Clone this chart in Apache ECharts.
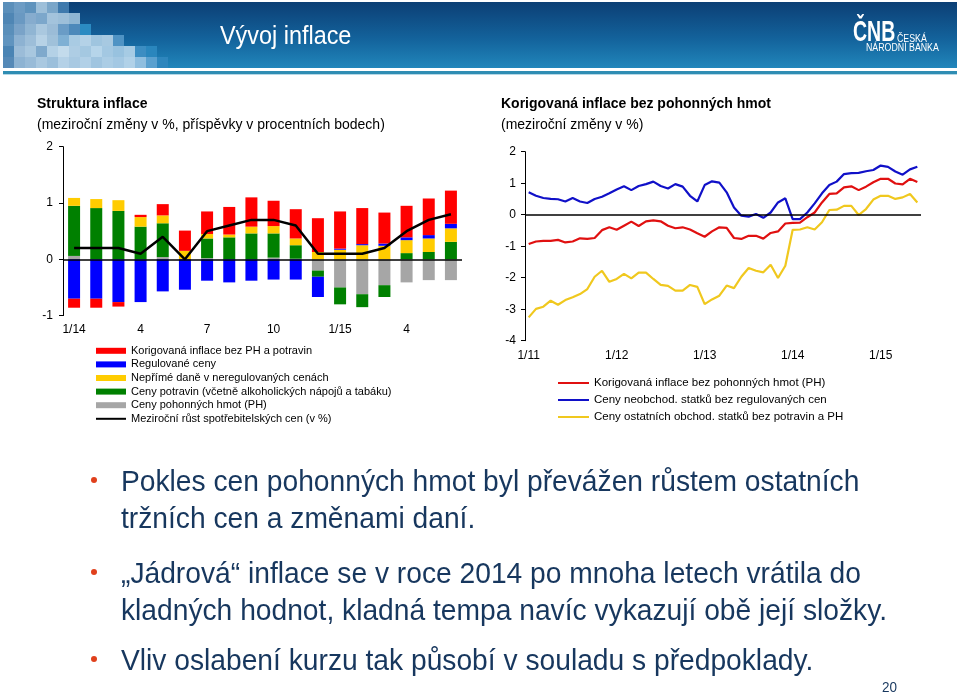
<!DOCTYPE html>
<html><head><meta charset="utf-8">
<script src="https://cdn.jsdelivr.net/npm/echarts@6/dist/echarts.min.js"></script>
<style>html,body{margin:0;padding:0;background:#fff}#c{width:960px;height:696px}</style>
</head><body><div id="c"></div>
<script>
// ---------- Left chart data (Struktura inflace) ----------
const leftCats = ["1/14","2","3","4","5","6","7","8","9","10","11","12","1/15","2","3","4","5","6"];
const korigovana = [-0.16,-0.16,-0.08,0.04,0.20,0.36,0.40,0.49,0.52,0.45,0.52,0.60,0.66,0.64,0.55,0.56,0.65,0.59];
const regulovane = [-0.70,-0.70,-0.76,-0.76,-0.57,-0.54,-0.38,-0.41,-0.38,-0.36,-0.36,-0.36,0.02,0.02,0.04,0.05,0.06,0.08];
const neprimeDane = [0.14,0.16,0.19,0.17,0.14,0.15,0.08,0.05,0.12,0.13,0.12,0.13,0.17,0.25,0.24,0.23,0.24,0.24];
const potraviny = [0.89,0.91,0.86,0.58,0.60,0.00,0.35,0.39,0.46,0.43,0.24,-0.11,-0.30,-0.23,-0.21,0.11,0.13,0.31];
const pohonne = [0.06,0.00,0.00,0.00,0.04,0.00,0.02,0.00,0.00,0.03,0.01,-0.20,-0.50,-0.62,-0.46,-0.41,-0.37,-0.37];
const cpi = [0.2,0.2,0.2,0.1,0.4,0.0,0.5,0.6,0.7,0.7,0.6,0.1,0.1,0.1,0.2,0.5,0.7,0.8];

// ---------- Right chart data (Korigovaná inflace bez PH) ----------
const rightCats = [
 "1/11","2/11","3/11","4/11","5/11","6/11","7/11","8/11","9/11","10/11","11/11","12/11",
 "1/12","2/12","3/12","4/12","5/12","6/12","7/12","8/12","9/12","10/12","11/12","12/12",
 "1/13","2/13","3/13","4/13","5/13","6/13","7/13","8/13","9/13","10/13","11/13","12/13",
 "1/14","2/14","3/14","4/14","5/14","6/14","7/14","8/14","9/14","10/14","11/14","12/14",
 "1/15","2/15","3/15","4/15","5/15","6/15"];
const korigBezPH = [-0.93,-0.85,-0.83,-0.83,-0.80,-0.88,-0.85,-0.75,-0.77,-0.74,-0.49,-0.40,
 -0.48,-0.35,-0.22,-0.36,-0.21,-0.18,-0.21,-0.35,-0.43,-0.40,-0.47,-0.59,
 -0.70,-0.53,-0.40,-0.42,-0.74,-0.77,-0.67,-0.67,-0.76,-0.58,-0.53,-0.28,
 -0.26,-0.25,-0.08,0.07,0.39,0.66,0.68,0.87,0.90,0.78,0.89,1.03,
 1.14,1.14,0.99,0.96,1.14,1.04];
const neobchod = [0.71,0.60,0.53,0.50,0.49,0.42,0.53,0.42,0.37,0.50,0.57,0.68,
 0.80,0.90,0.78,0.91,0.97,1.05,0.91,0.83,0.97,0.89,0.60,0.42,
 0.94,1.06,1.02,0.71,0.23,-0.03,-0.06,0.02,-0.10,0.07,0.39,0.52,
 -0.14,-0.14,0.07,0.36,0.68,0.94,1.05,1.29,1.32,1.33,1.38,1.42,
 1.56,1.52,1.37,1.27,1.44,1.52];
const ostatniObchod = [-3.26,-2.99,-2.92,-2.73,-2.86,-2.71,-2.62,-2.52,-2.36,-1.97,-1.78,-2.13,
 -2.04,-1.88,-2.02,-1.84,-1.84,-2.04,-2.23,-2.26,-2.41,-2.41,-2.23,-2.29,
 -2.84,-2.69,-2.57,-2.25,-2.33,-1.97,-1.69,-1.78,-1.83,-1.59,-2.01,-1.62,
 -0.48,-0.47,-0.40,-0.47,-0.24,0.15,0.16,0.28,0.28,-0.01,0.18,0.48,
 0.60,0.60,0.50,0.55,0.66,0.39];

const leftYTicks = [-1, 2, 1];    // min, max, interval
const rightYTicks = [-4, 2, 1];

const bullets = [
  ["Pokles cen pohonných hmot byl převážen růstem ostatních", "tržních cen a změnami daní."],
  ["„Jádrová“ inflace se v roce 2014 po mnoha letech vrátila do", "kladných hodnot, kladná tempa navíc vykazují obě její složky."],
  ["Vliv oslabení kurzu tak působí v souladu s předpoklady."]
];

const FONT = "'Liberation Sans', Arial, sans-serif";
const TXT = '#17375E';

// ---------- header decoration ----------
const sqRows = [
 ['#5b8fba','#6d9cc4','#5f93bd','#9dbfd9','#7aa6c9','#3f7aad'],
 ['#4f86b4','#6a99c2','#86acce','#7ca7cb','#a3c3dc','#9dbfd9','#8fb6d3'],
 ['#5a8fba','#7aa3c8','#90b5d3','#aac8df','#9bbcd7','#6a9cc6','#4d89ba','#2b8bc2'],
 ['#6094bf','#8db2d2','#9dbed9','#b7d2e6','#a0c1da','#7fb0d4','#a9cbe3','#b4d2e7','#9fc5df','#a7c9e1','#4f93c4'],
 ['#4a84b4','#9bbcd8','#a8c7df','#7fa9cc','#b4d1e6','#c3dbec','#aecde4','#a4c8e1','#b6d5ea','#a3c8e2','#98c2df','#a6cbe4','#3c8dc2','#2a86bd'],
 ['#5589b7','#8db3d3','#98bbd8','#a9c8e0','#9bbfdb','#b4d1e7','#a8c9e2','#b1d0e7','#a0c5e0','#abcde5','#a3c8e3','#b0d1e8','#8fbedf','#5aa0cf','#2e86bd']
];
const graphics = [];
graphics.push({type:'rect', shape:{x:3,y:2,width:954,height:66}, style:{fill:new echarts.graphic.LinearGradient(0,0,0,1,[{offset:0,color:'#0c3f75'},{offset:0.55,color:'#13629b'},{offset:1,color:'#2186bb'}])}, silent:true});
sqRows.forEach((row, r) => row.forEach((c, k) => {
  graphics.push({type:'rect', shape:{x:3+k*11, y:2+r*11, width:11, height:11}, style:{fill:c}, silent:true});
}));
graphics.push({type:'rect', shape:{x:3,y:71,width:954,height:3}, style:{fill:'#2f8db3'}, silent:true});
graphics.push({type:'rect', shape:{x:3,y:74,width:954,height:1}, style:{fill:'#b5d8e6'}, silent:true});
graphics.push({type:'text', x:220, y:37, scaleX:0.9, style:{text:'Vývoj inflace', fill:'#fff', font:"26px "+FONT, textVerticalAlign:'middle'}, silent:true});
graphics.push({type:'text', x:853, y:33, scaleX:0.65, style:{text:'ČNB', fill:'#fff', font:"bold 30px "+FONT, textVerticalAlign:'middle'}, silent:true});
graphics.push({type:'text', x:897, y:39, scaleX:0.88, style:{text:'ČESKÁ', fill:'#fff', font:"10px "+FONT, textVerticalAlign:'middle'}, silent:true});
graphics.push({type:'text', x:866, y:48, scaleX:0.88, style:{text:'NÁRODNÍ BANKA', fill:'#fff', font:"10px "+FONT, textVerticalAlign:'middle'}, silent:true});

// chart titles
graphics.push({type:'text', x:37, y:104, style:{text:'Struktura inflace', fill:'#000', font:"bold 14px "+FONT, textVerticalAlign:'middle'}, silent:true});
graphics.push({type:'text', x:37, y:125, style:{text:'(meziroční změny v %, příspěvky v procentních bodech)', fill:'#000', font:"14px "+FONT, textVerticalAlign:'middle'}, silent:true});
graphics.push({type:'text', x:501, y:104, style:{text:'Korigovaná inflace bez pohonných hmot', fill:'#000', font:"bold 14px "+FONT, textVerticalAlign:'middle'}, silent:true});
graphics.push({type:'text', x:501, y:125, style:{text:'(meziroční změny v %)', fill:'#000', font:"14px "+FONT, textVerticalAlign:'middle'}, silent:true});

// bullets
const lineYs = [[483,520],[575,612],[662]];
bullets.forEach((b, i) => {
  graphics.push({type:'circle', shape:{cx:94, cy:lineYs[i][0]-3, r:3}, style:{fill:'#e0401c'}, silent:true});
  b.forEach((t, j) => {
    graphics.push({type:'text', x:121, y:lineYs[i][j], scaleX:0.94, style:{text:t, fill:TXT, font:"30px "+FONT, textVerticalAlign:'middle'}, silent:true});
  });
});
graphics.push({type:'text', x:882, y:688, scaleX:0.9, style:{text:'20', fill:TXT, font:"15px "+FONT, textVerticalAlign:'middle'}, silent:true});

const zeroLine = {silent:true, symbol:['none','none'], label:{show:false}, lineStyle:{color:'#000', width:1.5, type:'solid'}, data:[{yAxis:0}]};

const barCommon = {type:'bar', stack:'s', barWidth:12, xAxisIndex:0, yAxisIndex:0, animation:false};
const noSym = {opacity:0};

const option = {
  animation:false,
  textStyle:{fontFamily:FONT},
  graphic: graphics,
  grid:[
    {left:63, top:146.7, width:399, height:168.9},
    {left:525, top:151.7, width:396, height:189}
  ],
  xAxis:[
    {type:'category', gridIndex:0, data:leftCats, axisLine:{show:false}, axisTick:{show:false},
     axisLabel:{interval:2, color:'#000', fontSize:12, margin:8, fontFamily:FONT}},
    {type:'category', gridIndex:1, data:rightCats, axisLine:{show:false}, axisTick:{show:false},
     axisLabel:{interval:11, color:'#000', fontSize:12, margin:9, fontFamily:FONT}}
  ],
  yAxis:[
    {type:'value', gridIndex:0, min:leftYTicks[0], max:leftYTicks[1], interval:leftYTicks[2], splitLine:{show:false},
     axisLine:{show:true, lineStyle:{color:'#000', width:1}}, axisTick:{show:true, length:4, lineStyle:{color:'#000'}},
     axisLabel:{color:'#000', fontSize:12, margin:10, fontFamily:FONT}},
    {type:'value', gridIndex:1, min:rightYTicks[0], max:rightYTicks[1], interval:rightYTicks[2], splitLine:{show:false},
     axisLine:{show:true, lineStyle:{color:'#000', width:1}}, axisTick:{show:true, length:4, lineStyle:{color:'#000'}},
     axisLabel:{color:'#000', fontSize:12, margin:9, fontFamily:FONT}}
  ],
  legend:[
    {orient:'vertical', left:95, top:344, itemWidth:30, itemHeight:6, itemGap:0, padding:0,
     textStyle:{fontSize:11, lineHeight:13.6, color:'#000', fontFamily:FONT},
     data:[
       {name:'Korigovaná inflace bez PH a potravin', icon:'rect'},
       {name:'Regulované ceny', icon:'rect'},
       {name:'Nepřímé daně v neregulovaných cenách', icon:'rect'},
       {name:'Ceny potravin (včetně alkoholických nápojů a tabáku)', icon:'rect'},
       {name:'Ceny pohonných hmot (PH)', icon:'rect'},
       {name:'Meziroční růst spotřebitelských cen (v %)', itemStyle:noSym}
     ]},
    {orient:'vertical', left:557, top:374.5, itemWidth:31, itemHeight:10, itemGap:0, padding:0,
     textStyle:{fontSize:11.5, lineHeight:17, color:'#000', fontFamily:FONT},
     data:[
       {name:'Korigovaná inflace bez pohonných hmot (PH)', itemStyle:noSym},
       {name:'Ceny neobchod. statků bez regulovaných cen', itemStyle:noSym},
       {name:'Ceny ostatních obchod. statků bez potravin a PH', itemStyle:noSym}
     ]}
  ],
  series:[
    Object.assign({name:'Ceny pohonných hmot (PH)', data:pohonne, itemStyle:{color:'#a6a6a6'}}, barCommon),
    Object.assign({name:'Ceny potravin (včetně alkoholických nápojů a tabáku)', data:potraviny, itemStyle:{color:'#008000'}}, barCommon),
    Object.assign({name:'Nepřímé daně v neregulovaných cenách', data:neprimeDane, itemStyle:{color:'#ffcc00'}}, barCommon),
    Object.assign({name:'Regulované ceny', data:regulovane, itemStyle:{color:'#0000ff'}}, barCommon),
    Object.assign({name:'Korigovaná inflace bez PH a potravin', data:korigovana, itemStyle:{color:'#ff0000'}}, barCommon),
    {name:'Meziroční růst spotřebitelských cen (v %)', type:'line', xAxisIndex:0, yAxisIndex:0, data:cpi,
     symbol:'none', lineStyle:{color:'#000', width:2.5}, itemStyle:{color:'#000'}, z:5, markLine:zeroLine},
    {name:'Ceny ostatních obchod. statků bez potravin a PH', type:'line', xAxisIndex:1, yAxisIndex:1, data:ostatniObchod,
     symbol:'none', lineStyle:{color:'#f0c81e', width:2.2}, itemStyle:{color:'#f0c81e'}, markLine:zeroLine},
    {name:'Korigovaná inflace bez pohonných hmot (PH)', type:'line', xAxisIndex:1, yAxisIndex:1, data:korigBezPH,
     symbol:'none', lineStyle:{color:'#e01010', width:2.2}, itemStyle:{color:'#e01010'}},
    {name:'Ceny neobchod. statků bez regulovaných cen', type:'line', xAxisIndex:1, yAxisIndex:1, data:neobchod,
     symbol:'none', lineStyle:{color:'#1010c8', width:2.2}, itemStyle:{color:'#1010c8'}}
  ]
};
const chart = echarts.init(document.getElementById('c'), null, {renderer:'canvas'});
chart.setOption(option);
</script></body></html>
